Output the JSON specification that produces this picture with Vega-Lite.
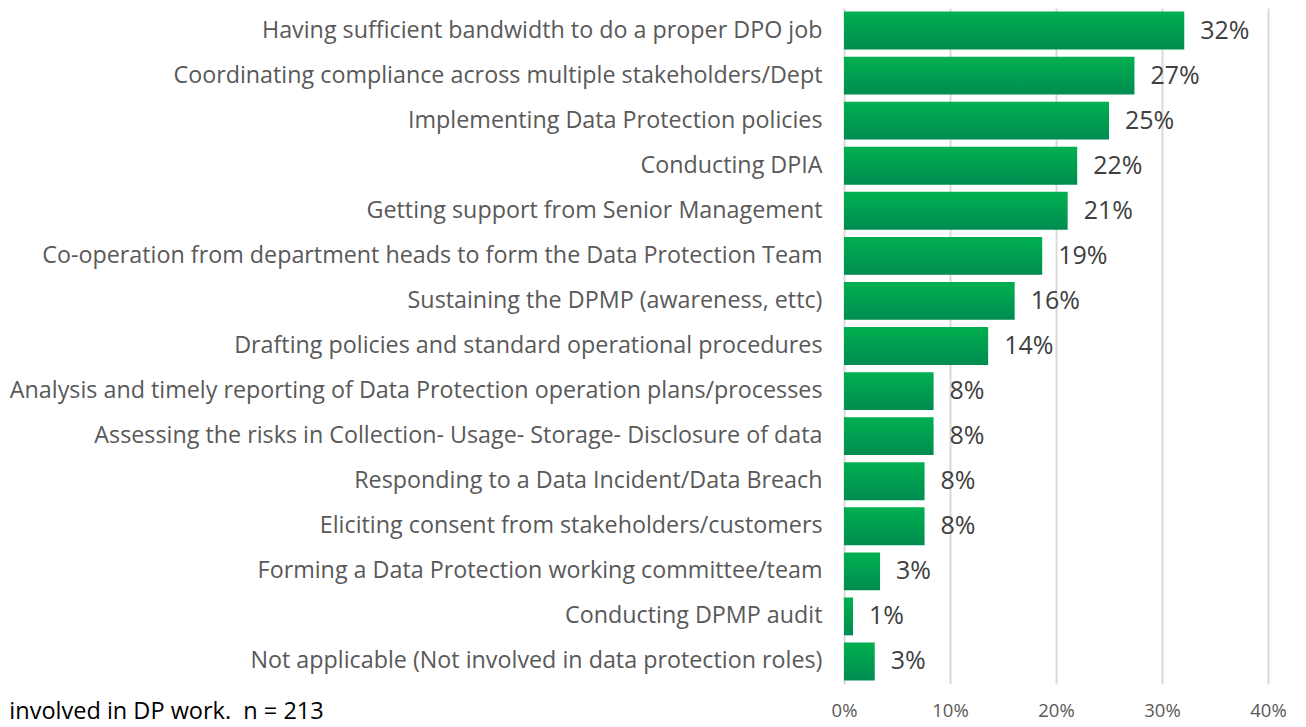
{
  "$schema": "https://vega.github.io/schema/vega-lite/v6.json",
  "autosize": "none",
  "width": 424,
  "height": 676,
  "padding": {"left": 844, "top": 8, "right": 38, "bottom": 43},
  "background": "white",
  "title": {
    "text": "involved in DP work.\u00a0 n = 213",
    "orient": "bottom",
    "anchor": "start",
    "frame": "bounds",
    "font": "Open Sans",
    "fontSize": 23.5,
    "fontWeight": "normal",
    "color": "#000000",
    "offset": -20
  },
  "data": {
    "values": [
      {"challenge": "Having sufficient bandwidth to do a proper DPO job", "share": 0.321},
      {"challenge": "Coordinating compliance across multiple stakeholders/Dept", "share": 0.274},
      {"challenge": "Implementing Data Protection policies", "share": 0.25},
      {"challenge": "Conducting DPIA", "share": 0.22},
      {"challenge": "Getting support from Senior Management", "share": 0.211},
      {"challenge": "Co-operation from department heads to form the Data Protection Team", "share": 0.187},
      {"challenge": "Sustaining the DPMP (awareness, ettc)", "share": 0.161},
      {"challenge": "Drafting policies and standard operational procedures", "share": 0.136},
      {"challenge": "Analysis and timely reporting of Data Protection operation plans/processes", "share": 0.0845},
      {"challenge": "Assessing the risks in Collection- Usage- Storage- Disclosure of data", "share": 0.0845},
      {"challenge": "Responding to a Data Incident/Data Breach", "share": 0.076},
      {"challenge": "Eliciting consent from stakeholders/customers ", "share": 0.076},
      {"challenge": "Forming a Data Protection working committee/team", "share": 0.034},
      {"challenge": "Conducting DPMP audit", "share": 0.0085},
      {"challenge": "Not applicable (Not involved in data protection roles)", "share": 0.029}
    ]
  },
  "encoding": {
    "y": {
      "field": "challenge",
      "type": "nominal",
      "sort": null,
      "scale": {"paddingInner": 0.16, "paddingOuter": 0.08},
      "axis": {
        "title": null,
        "ticks": false,
        "domain": false,
        "labelPadding": 22,
        "labelLimit": 900,
        "labelFont": "Open Sans",
        "labelFontSize": 23.3,
        "labelColor": "#595959"
      }
    },
    "x": {
      "field": "share",
      "type": "quantitative",
      "scale": {"domain": [0, 0.4]},
      "axis": {
        "title": null,
        "format": ".0%",
        "values": [0, 0.1, 0.2, 0.3, 0.4],
        "ticks": false,
        "domain": false,
        "grid": true,
        "gridColor": "#D9D9D9",
        "gridWidth": 2,
        "labelFlush": false,
        "labelPadding": 17,
        "labelFont": "Open Sans",
        "labelFontSize": 18.5,
        "labelColor": "#595959"
      }
    }
  },
  "layer": [
    {
      "mark": {
        "type": "bar",
        "color": {
          "gradient": "linear",
          "x1": 0, "y1": 0, "x2": 0, "y2": 1,
          "stops": [
            {"offset": 0, "color": "#00B050"},
            {"offset": 1, "color": "#008C50"}
          ]
        }
      }
    },
    {
      "mark": {
        "type": "text",
        "align": "left",
        "baseline": "middle",
        "dx": 16,
        "font": "Open Sans",
        "fontSize": 25,
        "color": "#404040"
      },
      "encoding": {
        "text": {"field": "share", "type": "quantitative", "format": ".0%"}
      }
    }
  ],
  "config": {
    "view": {"stroke": null}
  }
}
